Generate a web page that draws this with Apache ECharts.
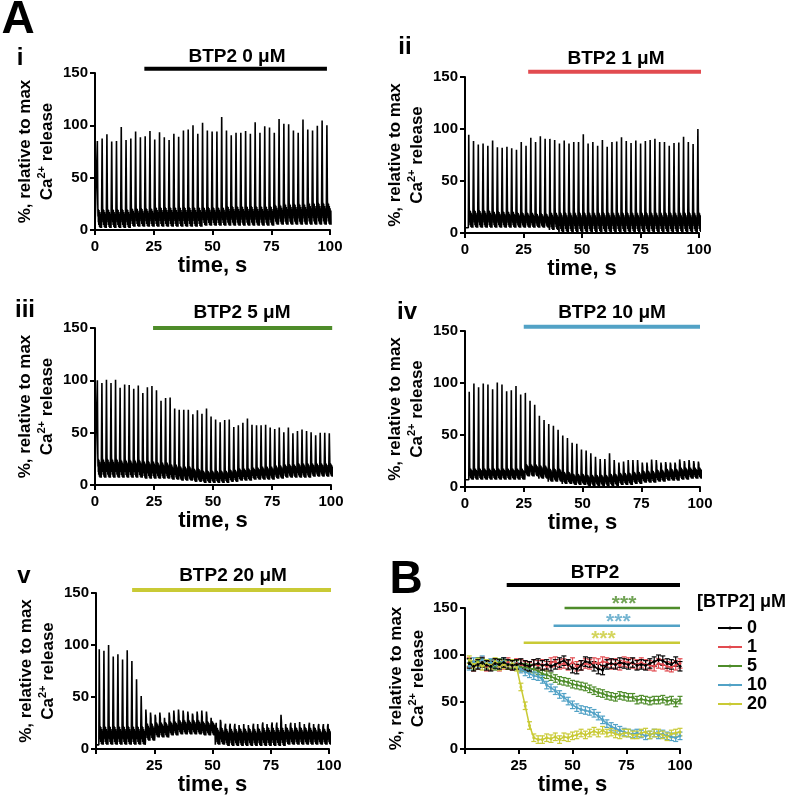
<!DOCTYPE html>
<html>
<head>
<meta charset="utf-8">
<script src="https://cdn.jsdelivr.net/npm/echarts@6.0.0/dist/echarts.min.js"></script>
<style>
html, body { margin: 0; background: #fff; }
#chart { width: 786px; height: 800px; }
</style>
</head>
<body>
<div id="chart"></div>
<script>
// ---- panel A: peak of each paced Ca2+ transient (% of max) ----
var peaks0 = [85, 87.5, 91.5, 84.5, 85, 98.5, 86, 87.5, 94, 88.5, 89.5, 94.5, 86.5, 93.5, 88.5, 86, 92, 89, 95, 96,
  100, 92, 102.5, 95, 94, 94, 108, 95, 90.5, 93, 93, 94.5, 92, 103, 93, 99, 98, 93, 106, 101.5,
  101, 95, 93, 105.5, 96, 95, 99.5, 104.5, 100];
var peaks1 = [94.5, 88.5, 85, 86, 84, 89, 82.5, 82, 83, 81.5, 80, 87.5, 84, 91.5, 87.5, 93, 90.5, 90.5, 89.5, 86,
  89, 86, 87.5, 87.5, 95, 86, 87.5, 84, 89.5, 83, 87.5, 88, 92, 88.5, 86.5, 89, 86, 88.5, 89.5, 90.5,
  87.5, 87.5, 84, 86.5, 87, 92.5, 87.5, 85.5, 100];
var peaks5 = [100, 97.5, 100.5, 97.5, 100.5, 93, 96, 95.5, 92, 95, 88, 93.5, 94.5, 90.5, 80.5, 83, 83.5, 73, 72, 72,
  72, 67.5, 71.5, 68, 73, 65.5, 62.5, 60, 62, 62.5, 55.5, 57, 59.5, 63.5, 57.5, 57, 57, 57.5, 55, 53.5,
  55, 50.5, 55, 49.5, 51.5, 53, 51.5, 50.5, 47.5, 50, 50, 49.5];
var peaks10 = [91.5, 99.5, 96, 99.5, 98.5, 94, 100.5, 98.5, 92, 93, 97, 89, 90.5, 83, 79, 68.5, 64.5, 60.5, 59, 55,
  49.5, 47, 42.5, 41.5, 36, 35, 32.5, 29, 27, 27, 32.5, 26, 23.5, 24.5, 26, 26, 26, 23.5, 23.5, 26.5,
  26, 23.5, 24, 23.5, 23.5, 26.5, 25, 26, 25, 24.5];
var peaks20 = [96, 94.5, 100, 89, 91, 86, 95, 84.5, 67, 51, 38, 35, 33, 35, 30, 35, 37, 38, 37, 36,
  34, 36, 37, 36, 30, 22, 28, 22, 22, 21, 23, 24, 23, 22, 24, 23, 24, 23, 22, 33,
  24, 23, 25, 26, 24, 23, 24, 22, 21, 22];

// time of first transient and pacing interval, s
var first0 = 1.0, period0 = 2.035;
var first1 = 1.6, period1 = 2.04;
var first5 = 1.0, period5 = 1.927;
var first10 = 1.8, period10 = 1.99;
var first20 = 1.4, period20 = 2.0;

// diastolic noise band, lower / upper edge for each 5 s stretch
var low0 = [2, 2, 2, 3, 3, 3, 3, 3, 3, 4, 4, 4, 4, 4, 4, 5, 5, 5, 5, 5];
var high0 = [20, 20, 20, 21, 21, 22, 22, 22, 22, 22, 22, 23, 23, 23, 23, 24, 25, 25, 26, 26];
var low1 = [5, 5, 5, 5, 5, 5, 5, 3, 1, 1, 1, 1, 1, 1, 1, 1, 1, 1, 1, 1];
var high1 = [22, 22, 21, 21, 20, 20, 19, 20, 20, 20, 20, 20, 20, 20, 20, 20, 20, 20, 20, 20];
var low5 = [7, 7, 7, 7, 6, 6, 5, 4, 3, 2, 2, 3, 4, 5, 5, 6, 7, 7, 8, 8];
var high5 = [25, 25, 24, 24, 23, 22, 20, 18, 16, 14, 14, 15, 16, 17, 18, 19, 20, 21, 21, 21];
var low10 = [7, 7, 7, 7, 7, 10, 8, 5, 3, 2, 1, 1, 1, 2, 3, 4, 5, 6, 7, 8];
var high10 = [18, 18, 18, 18, 18, 22, 21, 18, 15, 13, 12, 12, 13, 14, 15, 16, 17, 18, 19, 19];
var low20 = [4, 4, 4, 4, 8, 11, 13, 14, 14, 13, 4, 3, 3, 3, 3, 3, 4, 4, 4, 4];
var high20 = [22, 22, 22, 22, 25, 26, 27, 28, 28, 27, 21, 20, 20, 20, 21, 21, 21, 21, 21, 20];

// shape of the trace between two transients (0 = band low, 1 = band high)
var waveShape = [1.25, 0.6, 1.0, 0.3, 0.9, 0.15, 0.95, 0.4, 0.8, 0.05, 0.85, 0.3, 0.7, 0.0, 0.75, 0.2, 0.6, 0.05, 0.65, 0.0];

// drug application [from, to] in s
var drug0 = [21, 98.7], drug1 = [27, 101.5], drug5 = [24.6, 100.5], drug10 = [25, 100], drug20 = [15.5, 102];

// ---- panel B: mean +/- SEM ----
var timeB = [2, 4, 6, 8, 10, 12, 14, 16, 18, 20, 22, 24, 26, 28, 30, 32, 34, 36, 38, 40,
  42, 44, 46, 48, 50, 52, 54, 56, 58, 60, 62, 64, 66, 68, 70, 72, 74, 76, 78, 80,
  82, 84, 86, 88, 90, 92, 94, 96, 98, 100];
var meanB0 = [91, 88, 90, 92, 89, 88, 91, 90, 92, 90, 89, 90, 91, 89, 88, 90, 91, 89, 90, 88,
  90, 92, 94, 90, 86, 85, 89, 93, 92, 88, 85, 84, 90, 91, 90, 92, 91, 90, 92, 89,
  90, 89, 91, 93, 95, 94, 91, 90, 93, 88];
var meanB1 = [92, 88, 90, 93, 88, 89, 91, 88, 90, 92, 89, 91, 90, 88, 87, 90, 89, 90, 88, 92,
  93, 90, 91, 89, 92, 88, 89, 91, 90, 92, 91, 93, 92, 90, 91, 89, 93, 92, 91, 90,
  92, 90, 89, 88, 91, 90, 88, 87, 89, 91];
var meanB5 = [92, 88, 93, 92, 90, 91, 88, 92, 91, 89, 90, 90, 87, 87, 86, 85, 83, 80, 79, 77,
  75, 73, 72, 71, 69, 68, 67, 66, 64, 62, 60, 59, 57, 56, 55, 57, 56, 55, 55, 52,
  53, 52, 51, 52, 52, 53, 51, 52, 49, 52];
var meanB10 = [88, 93, 90, 95, 91, 92, 90, 89, 93, 90, 91, 88, 85, 82, 80, 78, 77, 74, 68, 65,
  62, 58, 55, 51, 47, 44, 42, 41, 40, 38, 35, 31, 27, 24, 22, 20, 18, 17, 16, 17,
  16, 14, 15, 17, 15, 16, 14, 13, 12, 14];
var meanB20 = [95, 90, 92, 88, 91, 89, 93, 88, 90, 89, 91, 87, 66, 46, 25, 12, 10, 10, 12, 11,
  13, 10, 13, 12, 14, 15, 17, 15, 17, 19, 17, 20, 17, 18, 16, 15, 17, 17, 15, 15,
  17, 18, 15, 17, 17, 15, 13, 16, 17, 18];
var semB = [5, 5, 4, 4, 4];            // 0, 1, 5, 10, 20 uM
var doseNames = ['0', '1', '5', '10', '20'];
var drugB = [19.4, 100];
var sigStart = [46.3, 41.2, 27.3];      // 5, 10, 20 uM significance bars, s
var sigLevel = [150, 131, 113];
var starPos = [[74, 158.5], [71.3, 139.4], [64.4, 121.3]];

var FONT = '"Liberation Sans", Arial, Helvetica, sans-serif';
var RED = '#e24b50', GREEN = '#4e8c2a', BLUE = '#52a2c6', YELLOW = '#c9ca35';

function buildTrace(peaks, first, period, low, high) {
  var pts = [[0, low[0]]];
  peaks.forEach(function (p, k) {
    var t0 = first + k * period;
    var seg = Math.min(low.length - 1, Math.floor(t0 / 5));
    var lo = low[seg], hi = high[seg];
    pts.push([t0 - 0.18, lo]);
    pts.push([t0, p]);
    waveShape.forEach(function (s, j) {
      pts.push([t0 + 0.2 + j * (period - 0.4) / waveShape.length, lo + s * (hi - lo)]);
    });
  });
  return pts;
}

var panels = [
  { name: 'i', title: 'BTP2 0 \u03bcM', color: '#000', trace: buildTrace(peaks0, first0, period0, low0, high0), drug: drug0, barY: 154,
    grid: { left: 95, top: 73, width: 235, height: 157 }, labelXY: [20, 58], titleXY: [237, 57] },
  { name: 'ii', title: 'BTP2 1 \u03bcM', color: RED, trace: buildTrace(peaks1, first1, period1, low1, high1), drug: drug1, barY: 155,
    grid: { left: 465, top: 77, width: 234, height: 156 }, labelXY: [405, 47], titleXY: [616, 59] },
  { name: 'iii', title: 'BTP2 5 \u03bcM', color: GREEN, trace: buildTrace(peaks5, first5, period5, low5, high5), drug: drug5, barY: 150,
    grid: { left: 95, top: 328, width: 236, height: 157 }, labelXY: [25, 310], titleXY: [242, 313] },
  { name: 'iv', title: 'BTP2 10 \u03bcM', color: BLUE, trace: buildTrace(peaks10, first10, period10, low10, high10), drug: drug10, barY: 154,
    grid: { left: 465, top: 331, width: 235, height: 156 }, labelXY: [407, 312], titleXY: [612, 313] },
  { name: 'v', title: 'BTP2 20 \u03bcM', color: YELLOW, trace: buildTrace(peaks20, first20, period20, low20, high20), drug: drug20, barY: 153,
    grid: { left: 96, top: 593, width: 233, height: 156 }, labelXY: [24, 576], titleXY: [233, 576] }
];

var bold = { fontWeight: 'bold', color: '#000', fontFamily: FONT };
function ts(size, extra) { return Object.assign({ fontSize: size }, bold, extra || {}); }

function xAxis(i, hideZero) {
  return {
    type: 'value', gridIndex: i, min: 0, max: 100, interval: 25,
    name: 'time, s', nameLocation: 'middle', nameGap: 25, nameTextStyle: ts(22),
    axisLine: { lineStyle: { color: '#000', width: 2 } },
    axisTick: { length: 5, lineStyle: { color: '#000', width: 2 } },
    axisLabel: Object.assign(ts(15), { margin: 9, formatter: function (v) { return hideZero && v === 0 ? '' : String(v); } }),
    splitLine: { show: false }
  };
}
function yAxis(i, gap) {
  return {
    type: 'value', gridIndex: i, min: 0, max: 150, interval: 50,
    name: '{n|%, relative to max}\n{n|Ca}{s|2+}{n| release}',
    nameLocation: 'middle', nameRotate: 90, nameGap: gap,
    nameTextStyle: Object.assign(ts(17), { lineHeight: 22, rich: {
      n: ts(17, { lineHeight: 22 }),
      s: ts(11, { lineHeight: 12, verticalAlign: 'top' })
    } }),
    axisLine: { show: true, lineStyle: { color: '#000', width: 2 } },
    axisTick: { show: true, length: 5, lineStyle: { color: '#000', width: 2 } },
    axisLabel: Object.assign(ts(15), { margin: 7 }),
    splitLine: { show: false }
  };
}

var grids = [], xAxes = [], yAxes = [], series = [], graphics = [];

panels.forEach(function (p, i) {
  grids.push(Object.assign({ outerBoundsMode: 'none', containLabel: false }, p.grid));
  xAxes.push(xAxis(i, i === 4));
  yAxes.push(yAxis(i, 37));
  series.push({
    type: 'line', xAxisIndex: i, yAxisIndex: i, data: p.trace, showSymbol: false, symbol: 'none',
    lineStyle: { color: '#000', width: 1.6 }, silent: true
  });
  series.push({
    type: 'line', xAxisIndex: i, yAxisIndex: i, clip: false, symbol: 'none', silent: true,
    data: [[p.drug[0], p.barY], [p.drug[1], p.barY]],
    lineStyle: { color: p.color, width: 4 }
  });
  graphics.push({ type: 'text', x: p.titleXY[0], y: p.titleXY[1],
    style: { text: p.title, font: 'bold 19px ' + FONT, fill: '#000', align: 'center', verticalAlign: 'middle' } });
  graphics.push({ type: 'text', x: p.labelXY[0], y: p.labelXY[1],
    style: { text: p.name, font: 'bold 24px ' + FONT, fill: '#000', align: 'center', verticalAlign: 'middle' } });
});

// panel B
var bi = 5;
grids.push({ outerBoundsMode: 'none', containLabel: false, left: 465, top: 608, width: 215, height: 141 });
xAxes.push(xAxis(bi, true));
yAxes.push(yAxis(bi, 22));

var meansB = [meanB0, meanB1, meanB5, meanB10, meanB20];
var colorsB = ['#000', RED, GREEN, BLUE, YELLOW];
var drawOrder = [1, 2, 3, 4, 0];
drawOrder.forEach(function (d) {
  var col = colorsB[d];
  series.push({
    type: 'custom', xAxisIndex: bi, yAxisIndex: bi, silent: true,
    data: meansB[d].map(function (v, k) { return [timeB[k], v - semB[d], v + semB[d]]; }),
    encode: { x: 0, y: [1, 2] },
    renderItem: function (params, api) {
      var lo = api.coord([api.value(0), api.value(1)]);
      var hi = api.coord([api.value(0), api.value(2)]);
      var st = { stroke: col, lineWidth: 1.2 };
      return { type: 'group', children: [
        { type: 'line', shape: { x1: lo[0], y1: lo[1], x2: hi[0], y2: hi[1] }, style: st },
        { type: 'line', shape: { x1: lo[0] - 2.5, y1: lo[1], x2: lo[0] + 2.5, y2: lo[1] }, style: st },
        { type: 'line', shape: { x1: hi[0] - 2.5, y1: hi[1], x2: hi[0] + 2.5, y2: hi[1] }, style: st }
      ] };
    }
  });
  series.push({
    type: 'line', name: doseNames[d], xAxisIndex: bi, yAxisIndex: bi, silent: true,
    data: meansB[d].map(function (v, k) { return [timeB[k], v]; }),
    symbol: 'circle', symbolSize: 3, showSymbol: true,
    lineStyle: { color: col, width: 1.5 }, itemStyle: { color: col, borderWidth: 0 }
  });
});
series.push({
  type: 'line', xAxisIndex: bi, yAxisIndex: bi, clip: false, symbol: 'none', silent: true,
  data: [[drugB[0], 174.5], [drugB[1], 174.5]], lineStyle: { color: '#000', width: 4 }
});
[GREEN, BLUE, YELLOW].forEach(function (col, k) {
  series.push({
    type: 'line', xAxisIndex: bi, yAxisIndex: bi, clip: false, symbol: 'none', silent: true,
    data: [[sigStart[k], sigLevel[k]], [100, sigLevel[k]]], lineStyle: { color: col, width: 2.5 }
  });
  series.push({
    type: 'scatter', xAxisIndex: bi, yAxisIndex: bi, clip: false, silent: true, symbolSize: 1,
    itemStyle: { color: 'rgba(0,0,0,0)' },
    data: [starPos[k]],
    label: { show: true, position: 'inside', offset: [0, 4], formatter: '***', fontSize: 21, fontWeight: 'bold', color: col, fontFamily: FONT }
  });
});

graphics.push({ type: 'text', x: 595, y: 573,
  style: { text: 'BTP2', font: 'bold 19px ' + FONT, fill: '#000', align: 'center', verticalAlign: 'middle' } });
graphics.push({ type: 'text', x: 697, y: 602,
  style: { text: '[BTP2] \u03bcM', font: 'bold 18px ' + FONT, fill: '#000', align: 'left', verticalAlign: 'middle' } });
graphics.push({ type: 'text', x: 18, y: 20,
  style: { text: 'A', font: 'bold 46px ' + FONT, fill: '#000', align: 'center', verticalAlign: 'middle' } });
graphics.push({ type: 'text', x: 406, y: 580,
  style: { text: 'B', font: 'bold 46px ' + FONT, fill: '#000', align: 'center', verticalAlign: 'middle' } });

var chart = echarts.init(document.getElementById('chart'), null, { renderer: 'canvas' });
chart.setOption({
  animation: false,
  backgroundColor: '#fff',
  grid: grids,
  xAxis: xAxes,
  yAxis: yAxes,
  legend: {
    data: doseNames, orient: 'vertical', left: 712, top: 614,
    itemWidth: 24, itemHeight: 4, itemGap: 1,
    itemStyle: { borderWidth: 0 },
    textStyle: ts(18, { lineHeight: 18 }), selectedMode: false
  },
  graphic: graphics,
  series: series
});
</script>
</body>
</html>
